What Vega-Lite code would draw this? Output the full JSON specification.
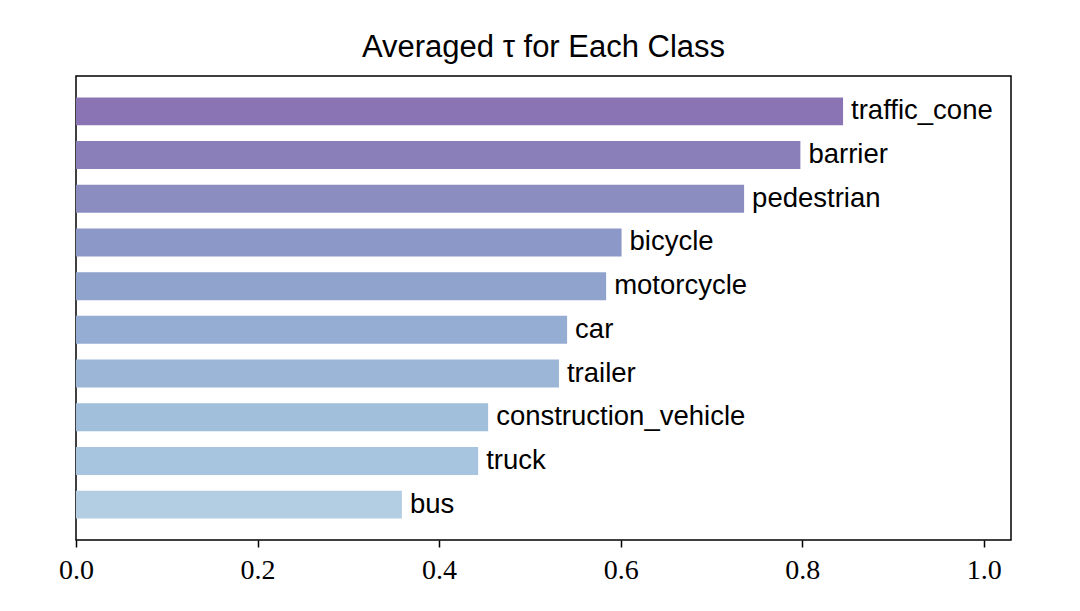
{
  "$schema": "https://vega.github.io/schema/vega-lite/v6.json",
  "autosize": "none",
  "width": 935,
  "height": 464,
  "padding": {"left": 76, "top": 76, "right": 69, "bottom": 71},
  "background": "white",
  "config": {
    "view": {"stroke": "black", "strokeWidth": 1.5},
    "font": "Liberation Sans"
  },
  "title": {
    "text": "Averaged τ for Each Class",
    "font": "Liberation Sans",
    "fontSize": 31,
    "fontWeight": "normal",
    "color": "black",
    "offset": 12,
    "anchor": "middle"
  },
  "data": {
    "values": [
      {"cls": "traffic_cone", "tau": 0.845, "col": "#8a74b4"},
      {"cls": "barrier", "tau": 0.798, "col": "#8b7fba"},
      {"cls": "pedestrian", "tau": 0.736, "col": "#8b8cc0"},
      {"cls": "bicycle", "tau": 0.601, "col": "#8c98c8"},
      {"cls": "motorcycle", "tau": 0.584, "col": "#90a3cd"},
      {"cls": "car", "tau": 0.541, "col": "#96add3"},
      {"cls": "trailer", "tau": 0.532, "col": "#9bb6d7"},
      {"cls": "construction_vehicle", "tau": 0.454, "col": "#a1bedb"},
      {"cls": "truck", "tau": 0.443, "col": "#a8c5df"},
      {"cls": "bus", "tau": 0.359, "col": "#b3cde3"}
    ]
  },
  "encoding": {
    "y": {
      "field": "cls",
      "type": "nominal",
      "sort": null,
      "scale": {"paddingInner": 0.36, "paddingOuter": 0.49},
      "axis": null
    },
    "x": {
      "field": "tau",
      "type": "quantitative",
      "scale": {"domain": [0, 1.03], "nice": false, "zero": true},
      "axis": {
        "title": null,
        "values": [0, 0.2, 0.4, 0.6, 0.8, 1.0],
        "format": ".1f",
        "grid": false,
        "domain": false,
        "ticks": true,
        "tickSize": 7,
        "tickWidth": 1.5,
        "tickColor": "black",
        "labelFont": "Liberation Serif",
        "labelFontSize": 28,
        "labelColor": "black",
        "labelFlush": false,
        "labelPadding": 9
      }
    }
  },
  "layer": [
    {
      "mark": {"type": "bar"},
      "encoding": {
        "color": {"field": "col", "type": "nominal", "scale": null}
      }
    },
    {
      "mark": {"type": "text", "align": "left", "baseline": "middle", "dx": 8, "fontSize": 27.5, "font": "Liberation Sans", "color": "black"},
      "encoding": {
        "text": {"field": "cls"}
      }
    }
  ]
}
